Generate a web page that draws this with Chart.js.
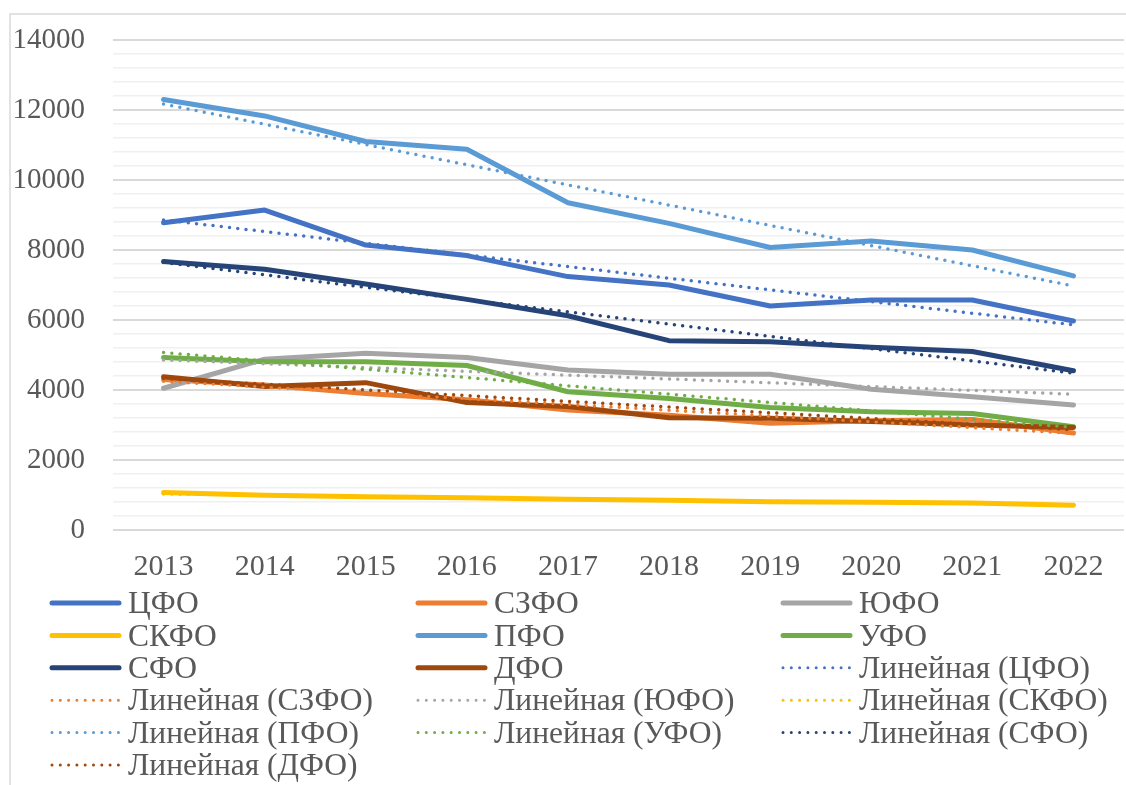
<!DOCTYPE html>
<html>
<head>
<meta charset="utf-8">
<script src="https://cdn.jsdelivr.net/npm/chart.js@4"></script>
<style>
    body { margin: 0; background: #fff; }
    canvas { display: block; }
</style>
</head>
<body>
<canvas id="chart" width="1126" height="785"></canvas>
<script>
    const years = ['2013', '2014', '2015', '2016', '2017', '2018', '2019', '2020', '2021', '2022'];
    const regions = ['ЦФО', 'СЗФО', 'ЮФО', 'СКФО', 'ПФО', 'УФО', 'СФО', 'ДФО'];

    const cfo  = [8780, 9140, 8140, 7840, 7240, 7000, 6400, 6570, 6570, 5970];
    const szfo = [4300, 4140, 3900, 3720, 3430, 3280, 3050, 3120, 3160, 2770];
    const yufo = [4050, 4880, 5050, 4930, 4570, 4450, 4450, 4020, 3810, 3570];
    const skfo = [1070, 990, 950, 920, 880, 850, 810, 790, 770, 710];
    const pfo  = [12300, 11830, 11100, 10880, 9350, 8760, 8070, 8260, 8000, 7260];
    const ufo  = [4930, 4810, 4810, 4700, 3950, 3760, 3500, 3380, 3330, 2950];
    const sfo  = [7670, 7450, 7030, 6590, 6120, 5410, 5380, 5220, 5100, 4550];
    const dfo  = [4380, 4100, 4210, 3640, 3530, 3210, 3190, 3100, 3000, 2930];

    // linear trend lines, value at 2013 and at 2022
    const trendStart = [8860, 4250, 4860, 1030, 12170, 5070, 7640, 4330];
    const trendEnd   = [5860, 2760, 3880, 720, 6970, 2930, 4480, 2860];

    const colors = ['#4472C4', '#ED7D31', '#A5A5A5', '#FFC000', '#5B9BD5', '#70AD47', '#264478', '#9E480E'];
    const seriesData = [cfo, szfo, yufo, skfo, pfo, ufo, sfo, dfo];

    const FONT = "'Liberation Serif', 'Times New Roman', serif";
    const TEXT = '#595959';

    const datasets = [];
    regions.forEach((name, i) => {
        datasets.push({
            label: name,
            data: seriesData[i],
            borderColor: colors[i],
            backgroundColor: colors[i],
            borderWidth: 5,
            borderCapStyle: 'round',
            borderJoinStyle: 'round',
            pointRadius: 0,
            tension: 0,
            order: -i
        });
    });
    regions.forEach((name, i) => {
        const d = years.map(() => null);
        d[0] = trendStart[i];
        d[d.length - 1] = trendEnd[i];
        datasets.push({
            label: 'Линейная (' + name + ')',
            data: d,
            spanGaps: true,
            borderColor: colors[i],
            backgroundColor: colors[i],
            borderWidth: 3.5,
            borderDash: [0, 8.3],
            borderCapStyle: 'round',
            pointRadius: 0,
            order: -(8 + i),
            dotted: true
        });
    });

    const framePlugin = {
        id: 'frame',
        beforeDraw(chart) {
            const ctx = chart.ctx;
            ctx.save();
            ctx.fillStyle = '#fff';
            ctx.fillRect(0, 0, chart.width, chart.height);
            ctx.strokeStyle = '#d9d9d9';
            ctx.lineWidth = 1.5;
            ctx.beginPath();
            ctx.moveTo(10, chart.height);
            ctx.lineTo(10, 14);
            ctx.lineTo(chart.width, 14);
            ctx.stroke();
            ctx.restore();
        }
    };

    // three-column legend like the Excel one
    const legendPlugin = {
        id: 'gridLegend',
        afterDraw(chart) {
            const ctx = chart.ctx;
            const colX = [50, 416, 781];
            const top = 604, rowH = 32.4;
            ctx.save();
            ctx.font = '31.5px ' + FONT;
            ctx.textBaseline = 'middle';
            ctx.textAlign = 'left';
            chart.data.datasets.forEach((ds, i) => {
                const x = colX[i % 3];
                const y = top + Math.floor(i / 3) * rowH;
                ctx.strokeStyle = ds.borderColor;
                ctx.lineCap = 'round';
                if (ds.dotted) {
                    ctx.lineWidth = 3;
                    ctx.setLineDash([0, 8.3]);
                } else {
                    ctx.lineWidth = 5;
                    ctx.setLineDash([]);
                }
                ctx.beginPath();
                ctx.moveTo(x + 2, y - 1);
                ctx.lineTo(x + 69, y - 1);
                ctx.stroke();
                ctx.fillStyle = TEXT;
                ctx.fillText(ds.label, x + 78, y + 1);
            });
            ctx.restore();
        }
    };

    new Chart(document.getElementById('chart'), {
        type: 'line',
        data: { labels: years, datasets: datasets },
        options: {
            responsive: false,
            animation: false,
            layout: { padding: { top: 40, right: 2, left: 0, bottom: 0 } },
            plugins: {
                legend: { display: false },
                tooltip: { enabled: false }
            },
            scales: {
                x: {
                    offset: true,
                    grid: { display: false, drawTicks: false },
                    border: { display: false },
                    ticks: { font: { family: FONT, size: 30 }, color: TEXT, padding: 19, maxRotation: 0 },
                    afterFit(scale) { scale.height = 255; }
                },
                y: {
                    min: 0,
                    max: 14000,
                    grid: {
                        drawTicks: false,
                        color: c => (c.tick && c.tick.value % 2000 === 0) ? '#d9d9d9' : '#f0f0f0',
                        lineWidth: c => (c.tick && c.tick.value % 2000 === 0) ? 2 : 1.5
                    },
                    border: { display: false },
                    ticks: {
                        stepSize: 400,
                        autoSkip: false,
                        padding: 28,
                        font: { family: FONT, size: 29 },
                        color: TEXT,
                        callback: v => v % 2000 === 0 ? String(v) : ''
                    },
                    afterFit(scale) {
                        scale.width = 113;
                        scale.paddingTop = 0;
                        scale.paddingBottom = 0;
                    }
                }
            }
        },
        plugins: [framePlugin, legendPlugin]
    });
</script>
</body>
</html>
